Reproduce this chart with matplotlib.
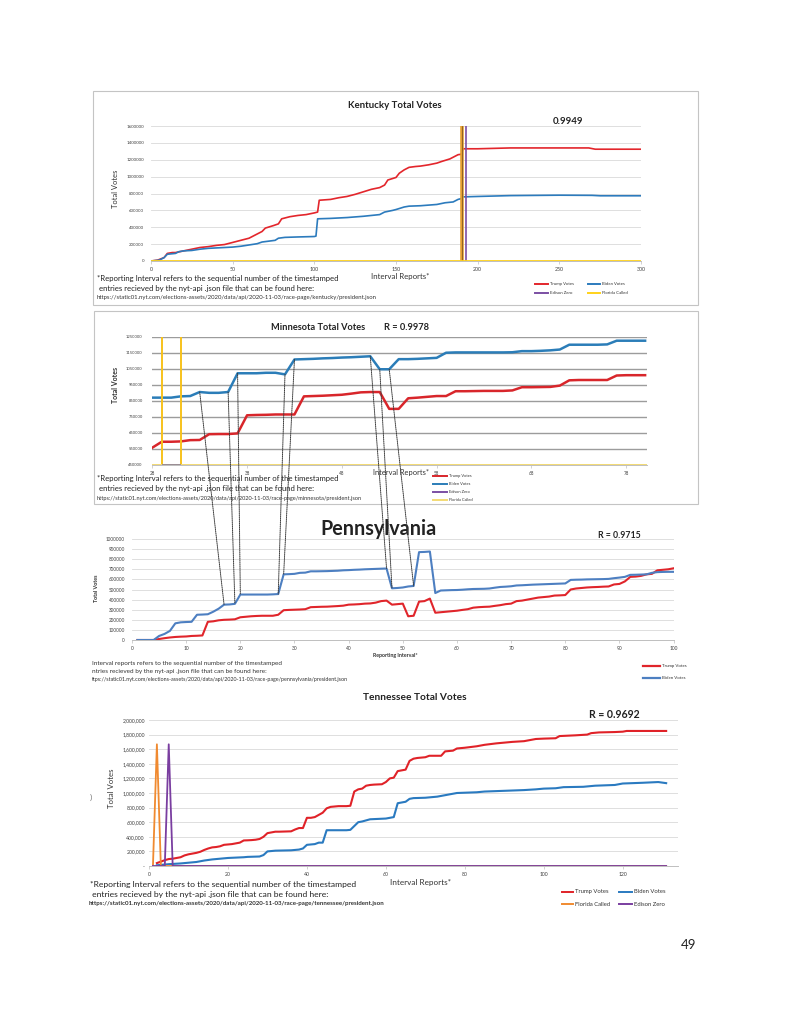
import numpy as np
import matplotlib
matplotlib.use("Agg")
import matplotlib.pyplot as plt
from matplotlib.patches import ConnectionPatch, Rectangle
from matplotlib.lines import Line2D
from matplotlib.ticker import FuncFormatter, MultipleLocator

plt.rcParams['font.family'] = ['Lato', 'DejaVu Sans']

W, H = 791, 1023

# ---------------- Kentucky ----------------
ky_trump_x = [0, 4, 8, 10, 13, 15, 20, 25, 30, 35, 40, 45, 50, 55, 60, 65, 68, 70, 75, 78,
              80, 85, 90, 95, 100, 102, 103, 110, 115, 120, 125, 130, 135, 140, 143, 145, 150, 152, 155, 158,
              162, 165, 170, 175, 178, 183, 186, 188, 190, 191, 200, 220, 268, 272, 300]
ky_trump = [0, 10000, 40000, 90000, 100000, 100000, 120000, 140000, 160000, 170000,
            185000, 195000, 220000, 245000, 270000, 320000, 350000, 390000, 420000, 440000,
            500000, 525000, 540000, 550000, 570000, 580000, 720000, 730000, 750000, 765000,
            790000, 820000, 850000, 870000, 900000, 960000, 990000, 1040000, 1080000, 1110000,
            1120000, 1125000, 1140000, 1160000, 1180000, 1210000, 1240000, 1260000, 1265000, 1330000,
            1330000, 1340000, 1340000, 1325000, 1325000]
ky_biden_x = [0, 5, 8, 10, 15, 17, 20, 25, 30, 35, 40, 45, 50, 55, 60, 65, 68, 72, 76, 78,
              82, 90, 100, 101, 102, 110, 120, 130, 135, 140, 143, 148, 150, 155, 158, 165, 175, 180, 185, 188,
              190, 191, 200, 220, 250, 270, 275, 300]
ky_biden = [0, 10000, 40000, 80000, 90000, 110000, 120000, 125000, 140000, 150000,
            155000, 160000, 165000, 175000, 190000, 205000, 225000, 235000, 245000, 270000,
            280000, 285000, 290000, 295000, 500000, 505000, 515000, 530000, 540000, 550000,
            580000, 600000, 610000, 640000, 650000, 655000, 670000, 690000, 700000, 730000,
            740000, 760000, 765000, 775000, 780000, 778000, 773000, 773000]
ky_florida_called_x = [190.2]
ky_edison_zero_x = [192.7]
ky_r = "0.9949"

# ---------------- Minnesota ----------------
mn_x = list(range(28, 81))
mn_trump = [558000, 595000, 595000, 597000, 605000, 606000, 642000, 643000, 643000, 647000,
            760000, 762000, 763000, 765000, 765000, 765000, 878000, 880000, 882000, 885000,
            888000, 895000, 903000, 905000, 905000, 800000, 800000, 866000, 870000, 875000,
            880000, 880000, 910000, 910000, 911000, 912000, 912000, 912000, 915000, 935000,
            935000, 936000, 937000, 945000, 978000, 980000, 980000, 980000, 980000, 1008000,
            1010000, 1010000, 1010000]
mn_biden = [870000, 870000, 870000, 878000, 880000, 905000, 900000, 900000, 905000, 1022000,
            1022000, 1022000, 1025000, 1025000, 1015000, 1108000, 1110000, 1112000, 1115000, 1117000,
            1120000, 1122000, 1125000, 1128000, 1047000, 1047000, 1110000, 1110000, 1112000, 1115000,
            1118000, 1150000, 1152000, 1152000, 1152000, 1152000, 1152000, 1152000, 1153000, 1160000,
            1160000, 1162000, 1165000, 1170000, 1200000, 1200000, 1200000, 1200000, 1202000, 1225000,
            1225000, 1225000, 1225000]
mn_florida_called_x = [29, 31]
mn_yticks = [450000, 550000, 650000, 750000, 850000, 950000, 1050000, 1150000, 1250000]
mn_xticks = [28, 38, 48, 58, 68, 78]
mn_r = "R = 0.9978"

# ---------------- Pennsylvania ----------------
pa_x = list(range(1, 101))
pa_biden = [0, 0, 0, 0, 40000, 60000, 90000, 165000, 175000, 178000,
            180000, 250000, 252000, 255000, 280000, 310000, 350000, 352000, 358000, 450000,
            450000, 450000, 450000, 450000, 450000, 452000, 455000, 650000, 652000, 655000,
            665000, 667000, 680000, 680000, 681000, 682000, 684000, 686000, 690000, 692000,
            695000, 697000, 700000, 702000, 704000, 706000, 708000, 512000, 515000, 520000,
            530000, 535000, 870000, 872000, 876000, 465000, 490000, 492000, 494000, 495000,
            498000, 502000, 505000, 506000, 507000, 510000, 518000, 525000, 528000, 532000,
            540000, 542000, 545000, 548000, 550000, 552000, 554000, 556000, 558000, 560000,
            595000, 597000, 598000, 600000, 601000, 602000, 603000, 605000, 612000, 618000,
            625000, 645000, 646000, 648000, 650000, 665000, 672000, 674000, 675000, 675000]
pa_trump = [0, 0, 0, 0, 10000, 18000, 25000, 30000, 33000, 35000,
            40000, 42000, 45000, 180000, 185000, 195000, 200000, 202000, 205000, 225000,
            230000, 235000, 238000, 240000, 240000, 240000, 250000, 295000, 298000, 300000,
            302000, 305000, 325000, 327000, 329000, 330000, 333000, 336000, 340000, 350000,
            352000, 355000, 360000, 362000, 370000, 385000, 390000, 350000, 355000, 360000,
            235000, 240000, 380000, 385000, 410000, 270000, 275000, 280000, 285000, 290000,
            298000, 305000, 320000, 325000, 328000, 330000, 338000, 345000, 355000, 360000,
            385000, 390000, 400000, 410000, 420000, 425000, 430000, 440000, 442000, 445000,
            500000, 510000, 515000, 520000, 523000, 525000, 528000, 530000, 550000, 555000,
            580000, 625000, 628000, 635000, 650000, 655000, 690000, 695000, 700000, 710000]
pa_r = "R = 0.9715"

# links drawn between the Minnesota and Pennsylvania Biden series
mn_link_x = [33, 36, 37, 42, 43, 51, 52, 53]
pa_link_x = [17, 19, 20, 27, 28, 47, 48, 52]

# ---------------- Tennessee ----------------
tn_trump_x = list(range(2, 34)) + [36, 37, 38, 39, 40, 41, 42, 43, 44, 45, 46, 47, 48,
                                    50, 51, 52, 53, 54, 55, 56, 57,
                                    59, 60, 61, 62, 63, 64, 65, 66, 67, 68,
                                    70, 71, 74, 75, 76, 77, 78,
                                    80, 83, 85, 88, 90, 92, 95, 98, 100,
                                    103, 104, 108, 111, 112, 114, 118, 120, 121, 131]
tn_trump = [40000, 60000, 80000, 95000, 100000, 110000, 120000, 145000, 160000, 170000,
            180000, 195000, 220000, 240000, 255000, 260000, 270000, 290000, 295000, 300000,
            310000, 320000, 350000, 352000, 355000, 360000, 370000, 400000, 450000, 460000,
            470000, 470000,
            475000, 500000, 520000, 520000, 660000, 660000, 670000, 700000, 730000, 790000, 810000, 815000, 820000,
            820000, 825000, 1020000, 1050000, 1060000, 1100000, 1110000, 1115000,
            1120000, 1150000, 1200000, 1210000, 1300000, 1310000, 1320000, 1440000, 1470000, 1480000,
            1490000, 1510000, 1510000, 1570000, 1575000, 1580000, 1610000,
            1620000, 1640000, 1660000, 1680000, 1690000, 1700000, 1710000, 1740000, 1745000,
            1750000, 1780000, 1790000, 1800000, 1820000, 1830000, 1835000, 1840000, 1850000, 1850000]
tn_biden_x = [2, 5, 8, 10, 12, 14, 16, 18, 20, 22, 24, 25, 28, 29, 30, 32, 36, 38, 39, 40,
              42, 43, 44, 45, 50, 51, 53, 54, 56, 60, 61, 62, 63, 64, 65, 66, 67, 70, 73, 75,
              77, 78, 83, 85, 90, 95, 98, 100, 103, 105, 110, 113, 118, 120, 125, 129, 131]
tn_biden = [10000, 25000, 35000, 45000, 55000, 75000, 90000, 100000, 110000, 115000,
            120000, 125000, 130000, 150000, 200000, 210000, 215000, 225000, 240000, 290000,
            300000, 320000, 320000, 490000, 490000, 495000, 600000, 610000, 640000, 650000,
            660000, 670000, 860000, 870000, 880000, 920000, 930000, 935000, 950000, 970000,
            990000, 1000000, 1010000, 1020000, 1030000, 1040000, 1050000, 1060000, 1065000, 1080000,
            1085000, 1100000, 1110000, 1130000, 1140000, 1150000, 1135000]
tn_florida_x = [1, 2, 3, 131]
tn_florida = [0, 1667000, 0, 0]
tn_edison_x = [1, 4, 5, 6, 131]
tn_edison = [0, 0, 1667000, 0, 0]
tn_r = "R = 0.9692"

NOTE1 = "*Reporting Interval refers to the sequential number of the timestamped"
NOTE2 = " entries recieved by the nyt-api .json file that can be found here:"
URL = "https://static01.nyt.com/elections-assets/2020/data/api/2020-11-03/race-page/{}/president.json"

RED = '#e3262c'
BLUE = '#2c7bbd'

fig = plt.figure(figsize=(W / 100, H / 100), dpi=100)
fig.patch.set_facecolor('white')


def rect(l, t, r, b):
    return [l / W, 1 - b / H, (r - l) / W, (b - t) / H]


def T(x, y, s, size, weight='normal', ha='left', color='#222222', rot=0):
    fig.text(x / W, 1 - y / H, s, fontsize=size, fontweight=weight, ha=ha, va='center',
             color=color, rotation=rot)


def leg(x0, x1, y, color, label, size, lw=1.4):
    fig.add_artist(Line2D([x0 / W, x1 / W], [1 - y / H] * 2, color=color, lw=lw,
                          transform=fig.transFigure))
    T(x1 + 2, y, label, size, color='#333333')


def box(l, t, r, b):
    fig.add_artist(Rectangle((l / W, 1 - b / H), (r - l) / W, (b - t) / H, fill=False,
                             ec='#c4c4c4', lw=0.8, transform=fig.transFigure))


def style(ax, gcolor='#d9d9d9', glw=0.6, ysize=4.0, xsize=4.0, ypad=6):
    for s in ['top', 'right', 'left']:
        ax.spines[s].set_visible(False)
    ax.spines['bottom'].set_color('#bfbfbf')
    ax.spines['bottom'].set_linewidth(0.7)
    ax.yaxis.grid(True, color=gcolor, lw=glw)
    ax.set_axisbelow(True)
    ax.tick_params(axis='y', length=0, labelsize=ysize, colors='#404040', pad=ypad)
    ax.tick_params(axis='x', length=2, width=0.5, color='#bfbfbf', labelsize=xsize,
                   colors='#404040', pad=2)
    ax.set_facecolor('none')


plain = FuncFormatter(lambda v, p: f"{int(round(v))}")

# ===== Kentucky =====
box(93, 91, 698, 305)
ax1 = fig.add_axes(rect(151, 126, 641, 261))
ax1.plot(ky_trump_x, ky_trump, color=RED, lw=1.2)
ax1.plot(ky_biden_x, ky_biden, color=BLUE, lw=1.2)
for xv in ky_edison_zero_x:
    ax1.axvline(xv, color='#7b4fa3', lw=1.2)
for xv in ky_florida_called_x:
    ax1.axvline(xv, color='#e5a030', lw=2.6)
    ax1.axvline(xv, color='#6d4a1c', lw=0.5)
ax1.axhline(0, color='#ffd21a', lw=1.3)
ax1.set_xlim(0, 300)
ax1.set_ylim(0, 1600000)
ax1.xaxis.set_major_locator(MultipleLocator(50))
ax1.yaxis.set_major_locator(MultipleLocator(200000))
ax1.yaxis.set_major_formatter(plain)
style(ax1, ysize=3.2, xsize=3.8, ypad=5)
T(395, 105, "Kentucky Total Votes", 6.9, 'bold', ha='center')
T(568, 121, ky_r, 7.0, 'bold', ha='center')
T(116, 189, "Total Votes", 5.4, rot=90, ha='center', color='#333333')
T(400, 277, "Interval Reports*", 5.7, ha='center', color='#333333')
T(97, 279, NOTE1, 5.6)
T(97, 288.5, NOTE2, 5.6)
T(97, 297.5, URL.format('kentucky'), 4.3, color='#333333')
leg(535, 548, 284, RED, "Trump Votes", 3.1)
leg(588, 600, 284, BLUE, "Biden Votes", 3.1)
leg(535, 548, 293, '#7b4fa3', "Edison Zero", 3.1)
leg(588, 600, 293, '#ffd21a', "Florida Called", 3.1)

# ===== Minnesota =====
box(94, 311, 698, 504)
ax2 = fig.add_axes(rect(152.3, 336.7, 647, 465))
ax2.plot(mn_x, mn_trump, color='#d8262b', lw=1.8)
ax2.plot(mn_x, mn_biden, color='#2b7db8', lw=1.8)
ax2.set_xlim(28, 80.2)
ax2.set_ylim(mn_yticks[0], mn_yticks[-1])
ax2.vlines(mn_florida_called_x, mn_yticks[0], mn_yticks[-1], color='#f7c21c', lw=1.4)
ax2.axhline(mn_yticks[0], color='#f3da74', lw=1.4)
ax2.hlines(mn_yticks[0], mn_florida_called_x[0], mn_florida_called_x[-1], color='#8a7f9a', lw=1.2)
ax2.set_xticks(mn_xticks)
ax2.set_yticks(mn_yticks)
ax2.yaxis.set_major_formatter(plain)
style(ax2, gcolor='#9c9c9c', glw=1.0, ysize=3.0, xsize=3.3, ypad=7)
T(318, 328, "Minnesota Total Votes", 6.7, 'bold', ha='center')
T(406, 328, mn_r, 6.7, 'bold', ha='center')
T(116, 385, "Total Votes", 5.0, 'bold', rot=90, ha='center', color='#333333')
T(401, 472, "Interval Reports*", 5.4, ha='center', color='#333333')
T(97, 479, NOTE1, 5.6)
T(97, 489, NOTE2, 5.6)
T(97, 498.5, URL.format('minnesota'), 4.1, color='#333333')
leg(433, 447, 476, '#d8262b', "Trump Votes", 2.9)
leg(433, 447, 484, '#2b7db8', "Biden Votes", 2.9)
leg(433, 447, 492, '#7b4fa3', "Edison Zero", 2.9)
leg(433, 447, 500, '#f3da74', "Florida Called", 2.9)

# ===== Pennsylvania =====
ax3 = fig.add_axes(rect(132, 539, 673.6, 640))
ax3.plot(pa_x, pa_trump, color='#e0252b', lw=1.5)
ax3.plot(pa_x, pa_biden, color='#4d7fc1', lw=1.5)
ax3.set_xlim(0, 100)
ax3.set_ylim(0, 1000000)
ax3.xaxis.set_major_locator(MultipleLocator(10))
ax3.yaxis.set_major_locator(MultipleLocator(100000))
ax3.yaxis.set_major_formatter(plain)
style(ax3, ysize=3.3, xsize=3.5, ypad=5)
T(379, 529, "Pennsylvania", 14.2, 'bold', ha='center')
T(619, 535, pa_r, 6.3, 'bold', ha='center')
T(97, 588, "Total Votes", 3.9, 'bold', rot=90, ha='center', color='#333333')
T(395, 655.5, "Reporting Interval*", 3.8, 'bold', ha='center', color='#333333')
T(92, 663, "Interval reports refers to the sequential number of the timestamped", 4.6, color='#333333')
T(92, 671.5, "ntries recieved by the nyt-api .json file that can be found here:", 4.6, color='#333333')
T(92, 680, "ttps://static01.nyt.com/elections-assets/2020/data/api/2020-11-03/race-page/pennsylvania/president.json",
  3.9, color='#333333')
leg(643, 660, 666, '#e0252b', "Trump Votes", 3.2, lw=1.6)
leg(643, 660, 678, '#4d7fc1', "Biden Votes", 3.2, lw=1.6)

# links
for xm, xp in zip(mn_link_x, pa_link_x):
    ym = float(np.interp(xm, mn_x, mn_biden))
    yp = float(np.interp(xp, pa_x, pa_biden))
    con = ConnectionPatch(xyA=(xm, ym), coordsA=ax2.transData,
                          xyB=(xp, yp), coordsB=ax3.transData,
                          color='#3a3a3a', lw=0.7, linestyle=(0, (1, 1)), zorder=10)
    fig.add_artist(con)

# ===== Tennessee =====
ax4 = fig.add_axes(rect(149, 720, 678, 866))
ax4.plot(tn_trump_x, tn_trump, color='#e02228', lw=1.5)
ax4.plot(tn_biden_x, tn_biden, color='#2a7ac0', lw=1.5)
ax4.plot(tn_florida_x, tn_florida, color='#f08a30', lw=1.3)
ax4.plot(tn_edison_x, tn_edison, color='#7a3ea0', lw=1.3)
ax4.set_xlim(0, 134)
ax4.set_ylim(0, 2000000)
ax4.xaxis.set_major_locator(MultipleLocator(20))
ax4.yaxis.set_major_locator(MultipleLocator(200000))
ax4.yaxis.set_major_formatter(FuncFormatter(lambda v, p: "-" if v == 0 else f"{int(round(v)):,}"))
style(ax4, ysize=3.7, xsize=3.7, ypad=3)
T(415, 698, "Tennessee Total Votes", 7.3, 'bold', ha='center')
T(614, 714, tn_r, 7.6, 'bold', ha='center')
T(111, 788, "Total Votes", 5.6, rot=90, ha='center', color='#333333')
T(421, 882, "Interval Reports*", 5.9, ha='center', color='#333333')
T(90, 884, NOTE1, 6.1)
T(90, 894, NOTE2, 6.1)
T(89, 903.5, URL.format('tennessee'), 4.4, 'bold', color='#333333')
leg(562, 573, 891.5, '#e02228', "Trump Votes", 4.2)
leg(619, 632, 891.5, '#2a7ac0', "Biden Votes", 4.2)
leg(562, 573, 904, '#f08a30', "Florida Called", 4.2)
leg(619, 632, 904, '#7a3ea0', "Edison Zero", 4.2)

T(90, 797, ")", 6, color='#777777')
T(681, 945, "49", 9.5, color='#222222')

fig.savefig("out.png", dpi=100, facecolor='white')
